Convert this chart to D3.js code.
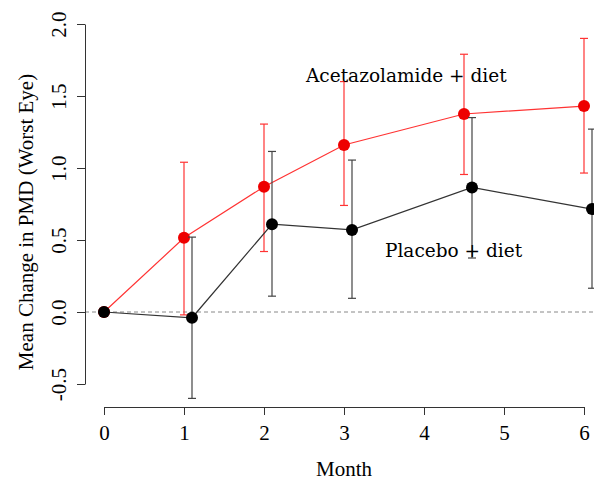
<!DOCTYPE html>
<html>
<head>
<meta charset="utf-8">
<script src="https://cdn.jsdelivr.net/npm/d3@7"></script>
<style>
  html, body { margin: 0; padding: 0; background: #fff; }
  svg { display: block; }
</style>
</head>
<body>
<svg id="chart" width="594" height="481"></svg>
<script>
// ---- data ----
const monthTicks = [0, 1, 2, 3, 4, 5, 6];
const yTicks = [-0.5, 0.0, 0.5, 1.0, 1.5, 2.0];

const acetMonths = [0, 1, 2, 3, 4.5, 6];
const acetMean   = [0, 0.515, 0.87, 1.16, 1.375, 1.43];
const acetUpper  = [null, 1.04, 1.305, 1.60, 1.79, 1.90];
const acetLower  = [null, -0.02, 0.42, 0.74, 0.955, 0.965];

const placMonths = [0, 1.1, 2.1, 3.1, 4.6, 6.1];
const placMean   = [0, -0.04, 0.61, 0.57, 0.865, 0.715];
const placUpper  = [null, 0.52, 1.115, 1.055, 1.35, 1.27];
const placLower  = [null, -0.60, 0.11, 0.095, 0.375, 0.165];

const acetLabel = "Acetazolamide + diet";
const placLabel = "Placebo + diet";
const xTitle = "Month";
const yTitle = "Mean Change in PMD (Worst Eye)";

// ---- layout ----
const svg = d3.select("#chart");
const x = d3.scaleLinear().domain([0, 6]).range([104, 584]);
const y = d3.scaleLinear().domain([-0.5, 2]).range([384, 24]);
const axisFont = "'Liberation Serif', 'Times New Roman', serif";
const labelFont = "'DejaVu Serif', Georgia, serif";

// reference line at 0
svg.append("line")
  .attr("x1", 85).attr("x2", 603)
  .attr("y1", y(0)).attr("y2", y(0))
  .attr("stroke", "#888").attr("stroke-width", 1)
  .attr("stroke-dasharray", "4,3");

// axes
const yAxis = d3.axisLeft(y).tickValues(yTicks).tickFormat(d => d.toFixed(1))
  .tickSize(8).tickSizeOuter(0);
const gy = svg.append("g").attr("transform", "translate(85,0)").call(yAxis);
gy.selectAll("path, line").attr("stroke", "#333");
gy.selectAll("text")
  .attr("transform", "rotate(-90)")
  .attr("x", 0).attr("y", -19).attr("dy", 0)
  .attr("text-anchor", "middle")
  .attr("fill", "#000")
  .style("font-family", axisFont).style("font-size", "21px");

const xAxis = d3.axisBottom(x).tickValues(monthTicks).tickFormat(d => String(d))
  .tickSize(8).tickSizeOuter(0);
const gx = svg.append("g").attr("transform", "translate(0,407)").call(xAxis);
gx.selectAll("path, line").attr("stroke", "#333");
gx.selectAll("text")
  .attr("y", 33).attr("dy", 0)
  .attr("fill", "#000")
  .style("font-family", axisFont).style("font-size", "21px");

// titles
svg.append("text").text(xTitle)
  .attr("x", x(3)).attr("y", 476).attr("text-anchor", "middle")
  .attr("fill", "#000")
  .style("font-family", axisFont).style("font-size", "21px");
svg.append("text").text(yTitle)
  .attr("transform", "translate(33,222) rotate(-90)")
  .attr("text-anchor", "middle")
  .attr("fill", "#000")
  .style("font-family", axisFont).style("font-size", "21px");

// series drawing
function drawSeries(months, mean, upper, lower, lineColor, barColor, dotColor) {
  const data = months.map((m, i) => ({ m, v: mean[i], u: upper[i], l: lower[i] }));
  const g = svg.append("g");
  g.append("path").datum(data)
    .attr("fill", "none").attr("stroke", lineColor).attr("stroke-width", 1.2)
    .attr("d", d3.line().x(d => x(d.m)).y(d => y(d.v)));
  const eb = data.filter(d => d.u !== null);
  const bars = g.selectAll(".eb").data(eb).enter().append("g");
  bars.append("line")
    .attr("x1", d => x(d.m)).attr("x2", d => x(d.m))
    .attr("y1", d => y(d.u)).attr("y2", d => y(d.l))
    .attr("stroke", barColor).attr("stroke-width", 1.2);
  bars.append("line")
    .attr("x1", d => x(d.m) - 4).attr("x2", d => x(d.m) + 4)
    .attr("y1", d => y(d.u)).attr("y2", d => y(d.u))
    .attr("stroke", barColor).attr("stroke-width", 1.2);
  bars.append("line")
    .attr("x1", d => x(d.m) - 4).attr("x2", d => x(d.m) + 4)
    .attr("y1", d => y(d.l)).attr("y2", d => y(d.l))
    .attr("stroke", barColor).attr("stroke-width", 1.2);
  g.selectAll("circle").data(data).enter().append("circle")
    .attr("cx", d => x(d.m)).attr("cy", d => y(d.v)).attr("r", 6)
    .attr("fill", dotColor);
}

drawSeries(acetMonths, acetMean, acetUpper, acetLower, "#ff3333", "#ff3333", "#ee0000");
drawSeries(placMonths, placMean, placUpper, placLower, "#333333", "#444444", "#000000");

// annotations
svg.append("text").text(acetLabel)
  .attr("x", 306).attr("y", 82)
  .attr("fill", "#000")
  .style("font-family", labelFont).style("font-size", "18.5px");
svg.append("text").text(placLabel)
  .attr("x", 385).attr("y", 257)
  .attr("fill", "#000")
  .style("font-family", labelFont).style("font-size", "18.5px");
</script>
</body>
</html>
